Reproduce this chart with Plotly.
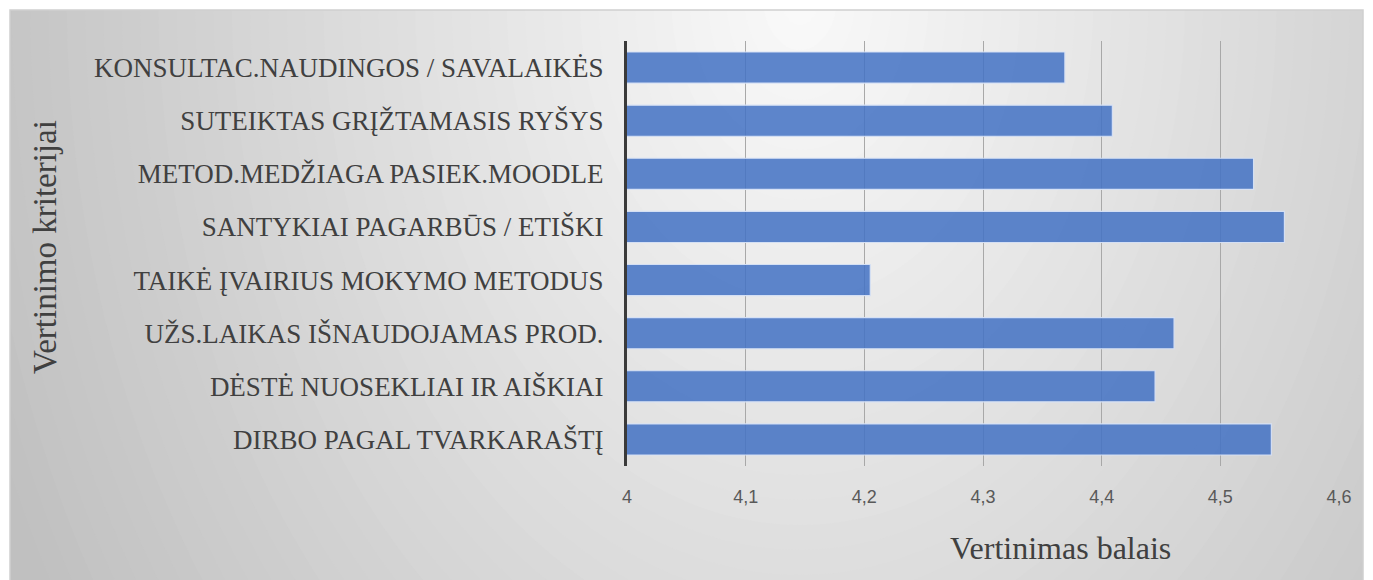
import plotly.graph_objects as go

# ---- data ----
categories = [
    "DIRBO PAGAL TVARKARAŠTĮ",
    "DĖSTĖ NUOSEKLIAI IR AIŠKIAI",
    "UŽS.LAIKAS IŠNAUDOJAMAS PROD.",
    "TAIKĖ ĮVAIRIUS MOKYMO METODUS",
    "SANTYKIAI PAGARBŪS / ETIŠKI",
    "METOD.MEDŽIAGA PASIEK.MOODLE",
    "SUTEIKTAS GRĮŽTAMASIS RYŠYS",
    "KONSULTAC.NAUDINGOS / SAVALAIKĖS",
]
values = [4.543, 4.445, 4.461, 4.205, 4.554, 4.528, 4.409, 4.369]
tick_vals = [4.0, 4.1, 4.2, 4.3, 4.4, 4.5, 4.6]
tick_text = ["4", "4,1", "4,2", "4,3", "4,4", "4,5", "4,6"]
x_title = "Vertinimas balais"
y_title = "Vertinimo kriterijai"

# ---- layout geometry (pixels) ----
W, H = 1373, 580
L, R, T, B = 627, 1339, 41, 466
PW, PH = R - L, B - T


def px(x):
    return (x - L) / PW


def py(y):
    return (B - y) / PH


fig = go.Figure()
fig.add_trace(go.Bar(
    x=values,
    y=categories,
    orientation="h",
    marker=dict(color="rgba(68,114,196,0.86)",
                line=dict(color="rgba(215,226,245,0.95)", width=1.2)),
    width=0.585,
    hoverinfo="x+y",
))

shapes = []
# background gradient (chart area)
CX, CY, RX, RY = 800, 0, 880, 1200
c_in, c_out = 250, 192
shapes.append(dict(type="rect", xref="paper", yref="paper",
                   x0=px(10), x1=px(1363), y0=py(580), y1=py(10),
                   fillcolor="rgb(%d,%d,%d)" % (c_out, c_out, c_out),
                   line=dict(width=0), layer="below"))
N = 48
for i in range(N):
    t = 1.0 - i / N
    c = round(c_in + (c_out - c_in) * t)
    shapes.append(dict(type="circle", xref="paper", yref="paper",
                       x0=px(CX - RX * t), x1=px(CX + RX * t),
                       y0=py(CY + RY * t), y1=py(CY - RY * t),
                       fillcolor="rgb(%d,%d,%d)" % (c, c, c),
                       line=dict(width=0), layer="below"))
# white surround outside chart area
for (a, b, c, d) in [(0, 10, 0, 580), (0, W, 0, 10), (1363, W, 0, 580)]:
    shapes.append(dict(type="rect", xref="paper", yref="paper",
                       x0=px(a), x1=px(b), y0=py(d), y1=py(c),
                       fillcolor="white", line=dict(width=0), layer="below"))
shapes.append(dict(type="rect", xref="paper", yref="paper",
                   x0=px(10), x1=px(1363), y0=py(582), y1=py(10),
                   line=dict(color="#d0d0d0", width=1.5), layer="below"))

fig.update_layout(
    width=W, height=H,
    margin=dict(l=L, r=W - R, t=T, b=H - B),
    paper_bgcolor="white",
    plot_bgcolor="rgba(0,0,0,0)",
    showlegend=False,
    bargap=0.415,
    shapes=shapes,
    xaxis=dict(
        range=[4.0, 4.6],
        tickvals=tick_vals, ticktext=tick_text,
        showgrid=True, gridcolor="#a8a8a8", gridwidth=1.4,
        zeroline=False, showline=False,
        tickfont=dict(family="Liberation Sans", size=18, color="#595959"),
        ticklabelstandoff=18,
        fixedrange=True,
    ),
    yaxis=dict(
        showgrid=False, zeroline=False,
        showline=True, linecolor="#3a3a3a", linewidth=3,
        tickfont=dict(family="Liberation Serif", size=27, color="#404040"),
        ticklabelstandoff=15,
        fixedrange=True,
    ),
    annotations=[
        dict(text=x_title, xref="paper", yref="paper", x=px(1060), y=py(548),
             xanchor="center", yanchor="middle", showarrow=False,
             font=dict(family="Liberation Serif", size=32, color="#404040")),
        dict(text=y_title, xref="paper", yref="paper", x=px(45), y=py(247),
             xanchor="center", yanchor="middle", showarrow=False, textangle=-90,
             font=dict(family="Liberation Serif", size=33, color="#404040")),
    ],
)

fig.write_html("out.html", config={"displayModeBar": False},
               post_script="document.body.style.margin='0px';")
